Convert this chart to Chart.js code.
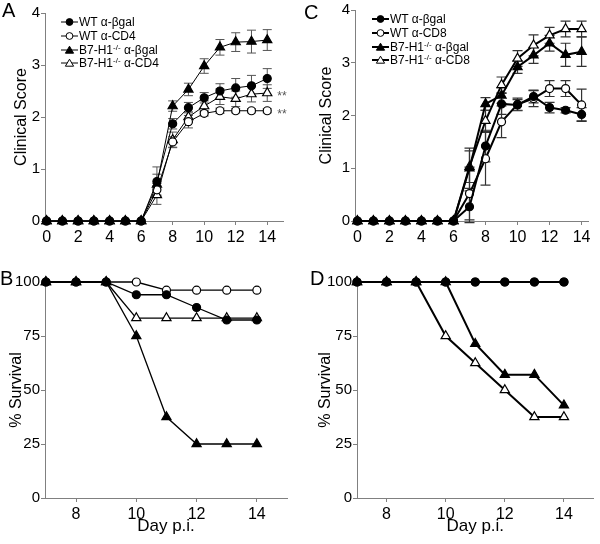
<!DOCTYPE html>
<html>
<head>
<meta charset="utf-8">
<script src="https://cdn.jsdelivr.net/npm/chart.js@4.4.0/dist/chart.umd.min.js"></script>
<style>
  body { margin: 0; background: #fff; }
  #fig { position: relative; width: 600px; height: 544px; font-family: "Liberation Sans", Arial, sans-serif; color: #000; }
  .panel { position: absolute; width: 300px; height: 272px; }
  .letter { position: absolute; font-size: 20px; line-height: 20px; }
  .legend { position: absolute; font-size: 12px; white-space: nowrap; }
  .legend div { display: flex; align-items: center; height: 13.7px; }
  .legend svg { margin-right: 1px; flex: none; }
  .legend sup { font-size: 8px; line-height: 0; vertical-align: 4px; }
</style>
</head>
<body>
<div id="fig">
  <div class="panel" style="left:0;top:0"><canvas id="chartA" width="300" height="272"></canvas></div>
  <div class="panel" style="left:300px;top:0"><canvas id="chartC" width="300" height="272"></canvas></div>
  <div class="panel" style="left:0;top:272px"><canvas id="chartB" width="300" height="272"></canvas></div>
  <div class="panel" style="left:300px;top:272px"><canvas id="chartD" width="300" height="272"></canvas></div>
  <div class="letter" style="left:2px;top:0">A</div>
  <div class="letter" style="left:304px;top:2px">C</div>
  <div class="letter" style="left:0;top:268px">B</div>
  <div class="letter" style="left:310px;top:268px">D</div>
  <div class="legend" id="legendA" style="left:61px;top:15.5px"></div>
  <div class="legend" id="legendC" style="left:372px;top:12.5px"></div>
</div>
<script>
// days and ticks
const scoreDays = [0, 1, 2, 3, 4, 5, 6, 7, 8, 9, 10, 11, 12, 13, 14];
const survivalDays = [7, 8, 9, 10, 11, 12, 13, 14];
const scoreTicksX = [0, 2, 4, 6, 8, 10, 12, 14];
const scoreTicksY = [0, 1, 2, 3, 4];
const survivalTicksX = [8, 10, 12, 14];
const survivalTicksY = [0, 25, 50, 75, 100];

const labelsCD4 = ['WT α-βgal', 'WT α-CD4', 'B7-H1-/- α-βgal', 'B7-H1-/- α-CD4'];
const labelsCD8 = ['WT α-βgal', 'WT α-CD8', 'B7-H1-/- α-βgal', 'B7-H1-/- α-CD8'];

// panel A - clinical score, CD4 depletion
const aWtBgal    = [0, 0, 0, 0, 0, 0, 0, 0.76, 1.87, 2.18, 2.37, 2.50, 2.56, 2.60, 2.74];
const aWtBgalErr = [0, 0, 0, 0, 0, 0, 0, 0.28, 0.10, 0.10, 0.10, 0.14, 0.18, 0.20, 0.19];
const aWtCd4     = [0, 0, 0, 0, 0, 0, 0, 0.60, 1.52, 1.91, 2.07, 2.12, 2.12, 2.12, 2.12];
const aWtCd4Err  = [0, 0, 0, 0, 0, 0, 0, 0.12, 0.10, 0.12, 0.05, 0.05, 0.04, 0.04, 0.04];
const aKoBgal    = [0, 0, 0, 0, 0, 0, 0, 0.70, 2.21, 2.53, 2.98, 3.34, 3.44, 3.45, 3.48];
const aKoBgalErr = [0, 0, 0, 0, 0, 0, 0, 0.20, 0.10, 0.12, 0.14, 0.15, 0.18, 0.22, 0.20];
const aKoCd4     = [0, 0, 0, 0, 0, 0, 0, 0.50, 1.56, 2.00, 2.21, 2.39, 2.35, 2.44, 2.46];
const aKoCd4Err  = [0, 0, 0, 0, 0, 0, 0, 0.18, 0.15, 0.10, 0.10, 0.15, 0.15, 0.15, 0.16];

// panel C - clinical score, CD8 depletion
const cWtBgal    = [0, 0, 0, 0, 0, 0, 0, 0.27, 1.42, 2.22, 2.20, 2.36, 2.15, 2.10, 2.02];
const cWtBgalErr = [0, 0, 0, 0, 0, 0, 0, 0.30, 0.30, 0.20, 0.10, 0.12, 0.10, 0.05, 0.13];
const cWtCd8     = [0, 0, 0, 0, 0, 0, 0, 0.52, 1.18, 1.88, 2.21, 2.32, 2.51, 2.51, 2.20];
const cWtCd8Err  = [0, 0, 0, 0, 0, 0, 0, 0.50, 0.50, 0.30, 0.12, 0.15, 0.15, 0.15, 0.30];
const cKoBgal    = [0, 0, 0, 0, 0, 0, 0, 1.00, 2.22, 2.38, 2.92, 3.14, 3.37, 3.15, 3.21];
const cKoBgalErr = [0, 0, 0, 0, 0, 0, 0, 0.38, 0.12, 0.15, 0.12, 0.15, 0.15, 0.22, 0.28];
const cKoCd8     = [0, 0, 0, 0, 0, 0, 0, 1.03, 1.90, 2.58, 3.08, 3.33, 3.52, 3.64, 3.64];
const cKoCd8Err  = [0, 0, 0, 0, 0, 0, 0, 0.30, 0.20, 0.15, 0.15, 0.20, 0.15, 0.15, 0.15];

// panel B - survival, CD4 depletion
const bWtBgal = [100, 100, 100, 94.1, 94.1, 88.2, 82.4, 82.4];
const bWtCd4  = [100, 100, 100, 100, 96.2, 96.2, 96.2, 96.2];
const bKoBgal = [100, 100, 100, 75, 37.5, 25, 25, 25];
const bKoCd4  = [100, 100, 100, 83.3, 83.3, 83.3, 83.3, 83.3];

// panel D - survival, CD8 depletion
const dWtBgal = [100, 100, 100, 100, 100, 100, 100, 100];
const dWtCd8  = [100, 100, 100, 100, 100, 100, 100, 100];
const dKoBgal = [100, 100, 100, 100, 71.4, 57.1, 57.1, 42.9];
const dKoCd8  = [100, 100, 100, 75, 62.5, 50, 37.5, 37.5];

Chart.defaults.font.family = '"Liberation Sans", Arial, sans-serif';
Chart.defaults.color = '#000';

// marker kinds: 0 filled circle, 1 open circle, 2 filled triangle, 3 open triangle
function series(days, values, errors, label, kind, lw, note) {
  const tri = kind >= 2;
  return {
    label: label,
    data: days.map((d, i) => ({ x: d, y: values[i] })),
    errors: errors,
    note: note,
    kind: kind,
    borderColor: '#000',
    borderWidth: lw,
    pointStyle: tri ? 'triangle' : 'circle',
    pointRadius: tri ? 5.3 : 4,
    pointBackgroundColor: kind % 2 === 0 ? '#000' : '#fff',
    pointBorderColor: '#000',
    pointBorderWidth: 1.2,
    tension: 0,
    fill: false,
    clip: false
  };
}

const errorBars = {
  id: 'errorBars',
  beforeDatasetsDraw(chart, args, opts) {
    const ctx = chart.ctx;
    const ys = chart.scales.y;
    chart.data.datasets.forEach((ds, i) => {
      if (!ds.errors) return;
      chart.getDatasetMeta(i).data.forEach((pt, j) => {
        const e = ds.errors[j];
        if (!e) return;
        const v = ds.data[j].y;
        const t = ys.getPixelForValue(v + e);
        const b = ys.getPixelForValue(v - e);
        ctx.save();
        ctx.strokeStyle = opts.color;
        ctx.lineWidth = opts.width;
        ctx.beginPath();
        ctx.moveTo(pt.x, t); ctx.lineTo(pt.x, b);
        ctx.moveTo(pt.x - opts.cap, t); ctx.lineTo(pt.x + opts.cap, t);
        ctx.moveTo(pt.x - opts.cap, b); ctx.lineTo(pt.x + opts.cap, b);
        ctx.stroke();
        ctx.restore();
      });
    });
  },
  afterDatasetsDraw(chart) {
    const ctx = chart.ctx;
    chart.data.datasets.forEach((ds, i) => {
      if (!ds.note) return;
      const pts = chart.getDatasetMeta(i).data;
      const last = pts[pts.length - 1];
      ctx.save();
      ctx.fillStyle = '#555';
      ctx.font = '12px "Liberation Sans", Arial, sans-serif';
      ctx.textBaseline = 'alphabetic';
      ctx.fillText(ds.note, last.x + 10, last.y + 7);
      ctx.restore();
    });
  }
};

function axis(min, max, ticks, size, pad, fit, title) {
  return {
    type: 'linear',
    min: min,
    max: max,
    afterBuildTicks: s => { s.ticks = ticks.map(v => ({ value: v })); },
    afterFit: fit,
    grid: { drawOnChartArea: false, tickLength: 4, color: '#808080' },
    border: { color: '#808080', width: 1 },
    ticks: { font: { size: size }, color: '#000', padding: pad, maxRotation: 0, autoSkip: false },
    title: title || { display: false }
  };
}

function makeChart(id, datasets, p) {
  return new Chart(document.getElementById(id), {
    type: 'line',
    data: { datasets: datasets },
    options: {
      responsive: false,
      animation: false,
      devicePixelRatio: 1,
      layout: { padding: p.padding },
      plugins: {
        legend: { display: false },
        tooltip: { enabled: false },
        errorBars: p.err
      },
      scales: {
        x: axis(p.xMin, p.xMax, p.xTicks, 16, 3, s => { s.height = p.xH; }, p.xTitle),
        y: axis(p.yMin, p.yMax, p.yTicks, 15, 1, s => { s.width = p.yW; }, {
          display: true, text: p.yTitle, color: '#000',
          font: { size: 16, lineHeight: 1.2 }, padding: { top: p.yPad, bottom: 0 }
        })
      }
    },
    plugins: [errorBars]
  });
}

function buildLegend(el, chart, lw) {
  chart.data.datasets.forEach(ds => {
    const fill = ds.kind % 2 === 0 ? '#000' : '#fff';
    const mark = ds.kind >= 2
      ? '<polygon points="8.5,1.2 12.6,8.2 4.4,8.2" fill="' + fill + '" stroke="#000" stroke-width="1"/>'
      : '<circle cx="8.5" cy="5" r="3.4" fill="' + fill + '" stroke="#000" stroke-width="1"/>';
    const row = document.createElement('div');
    row.innerHTML = '<svg width="17" height="10"><line x1="0" y1="5" x2="17" y2="5" stroke="#000" stroke-width="' + lw + '"/>' +
      mark + '</svg><span>' + ds.label.replace('-/-', '<sup>-/-</sup>') + '</span>';
    el.appendChild(row);
  });
}

const chartA = makeChart('chartA', [
  series(scoreDays, aWtBgal, aWtBgalErr, labelsCD4[0], 0, 1),
  series(scoreDays, aWtCd4, aWtCd4Err, labelsCD4[1], 1, 1, '**'),
  series(scoreDays, aKoBgal, aKoBgalErr, labelsCD4[2], 2, 1),
  series(scoreDays, aKoCd4, aKoCd4Err, labelsCD4[3], 3, 1, '**')
], {
  padding: { left: 0, top: 13, right: 17, bottom: 0 },
  xMin: -0.1, xMax: 15, xTicks: scoreTicksX, xH: 51,
  yMin: 0, yMax: 4, yTicks: scoreTicksY, yW: 45,
  yTitle: 'Clinical Score', yPad: 12,
  err: { color: '#555', width: 1, cap: 4.5 }
});

const chartC = makeChart('chartC', [
  series(scoreDays, cWtBgal, cWtBgalErr, labelsCD8[0], 0, 2),
  series(scoreDays, cWtCd8, cWtCd8Err, labelsCD8[1], 1, 2),
  series(scoreDays, cKoBgal, cKoBgalErr, labelsCD8[2], 2, 2),
  series(scoreDays, cKoCd8, cKoCd8Err, labelsCD8[3], 3, 2)
], {
  padding: { left: 0, top: 9, right: 12, bottom: 0 },
  xMin: -0.15, xMax: 14.4, xTicks: scoreTicksX, xH: 51,
  yMin: 0, yMax: 4, yTicks: scoreTicksY, yW: 55,
  yTitle: 'Clinical Score', yPad: 17,
  err: { color: '#333', width: 1.2, cap: 5 }
});

const survivalX = { display: true, text: 'Day p.i.', color: '#000', font: { size: 17, lineHeight: 1.2 }, padding: { top: 0, bottom: 7 } };

makeChart('chartB', [
  series(survivalDays, bWtBgal, null, labelsCD4[0], 0, 1.3),
  series(survivalDays, bWtCd4, null, labelsCD4[1], 1, 1.3),
  series(survivalDays, bKoBgal, null, labelsCD4[2], 2, 1.3),
  series(survivalDays, bKoCd4, null, labelsCD4[3], 3, 1.3)
], {
  padding: { left: 0, top: 10, right: 13, bottom: 0 },
  xMin: 6.97, xMax: 15, xTicks: survivalTicksX, xH: 46, xTitle: survivalX,
  yMin: 0, yMax: 100, yTicks: survivalTicksY, yW: 45,
  yTitle: '% Survival', yPad: 7,
  err: { color: '#000', width: 1, cap: 4 }
});

makeChart('chartD', [
  series(survivalDays, dWtBgal, null, labelsCD8[0], 0, 2),
  series(survivalDays, dWtCd8, null, labelsCD8[1], 1, 2),
  series(survivalDays, dKoBgal, null, labelsCD8[2], 2, 2),
  series(survivalDays, dKoCd8, null, labelsCD8[3], 3, 2)
], {
  padding: { left: 0, top: 10, right: 2, bottom: 0 },
  xMin: 7, xMax: 15, xTicks: survivalTicksX, xH: 46, xTitle: survivalX,
  yMin: 0, yMax: 100, yTicks: survivalTicksY, yW: 57,
  yTitle: '% Survival', yPad: 16,
  err: { color: '#000', width: 1, cap: 4 }
});

buildLegend(document.getElementById('legendA'), chartA, 1);
buildLegend(document.getElementById('legendC'), chartC, 2);
</script>
</body>
</html>
